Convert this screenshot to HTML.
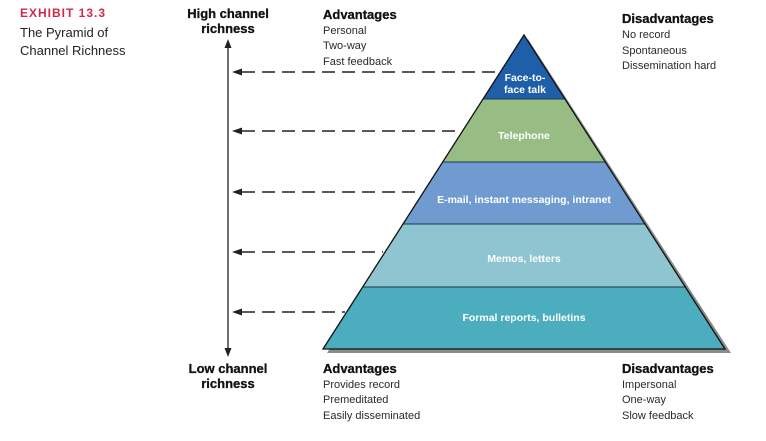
<!DOCTYPE html>
<html><head><meta charset="utf-8"><style>
html,body{margin:0;padding:0;background:#fff;}
svg{display:block;font-family:"Liberation Sans",sans-serif;}
.h{font-weight:bold;font-size:13px;fill:#111;stroke:#111;stroke-width:0.3;}
.b{font-size:11px;fill:#2a2a2a;}
.w{font-weight:bold;font-size:10.5px;fill:#fff;}
</style></head><body>
<svg width="766" height="441" viewBox="0 0 766 441" xmlns="http://www.w3.org/2000/svg">
<text x="20" y="17" font-size="12" font-weight="bold" fill="#d2294a" letter-spacing="1">EXHIBIT 13.3</text>
<text x="20" y="37" font-size="13" fill="#222">The Pyramid of</text>
<text x="20" y="55" font-size="13" fill="#222">Channel Richness</text>

<text class="h" x="228" y="18" text-anchor="middle">High channel</text>
<text class="h" x="228" y="33" text-anchor="middle">richness</text>
<text class="h" x="228" y="373" text-anchor="middle">Low channel</text>
<text class="h" x="228" y="388" text-anchor="middle">richness</text>

<line x1="228" y1="46" x2="228" y2="350" stroke="#222" stroke-width="1.3"/>
<polygon points="228,39 224.5,48 231.5,48" fill="#222"/>
<polygon points="228,357 224.5,348 231.5,348" fill="#222"/>

<g stroke="#222" stroke-width="1.5" stroke-dasharray="13,7">
<line x1="242" y1="72" x2="498" y2="72"/>
<line x1="242" y1="131" x2="460" y2="131"/>
<line x1="242" y1="192" x2="421" y2="192"/>
<line x1="242" y1="252" x2="383" y2="252"/>
<line x1="242" y1="312" x2="345" y2="312"/>
</g>
<g fill="#222">
<polygon points="232,72 242,68.5 242,75.5"/>
<polygon points="232,131 242,127.5 242,134.5"/>
<polygon points="232,192 242,188.5 242,195.5"/>
<polygon points="232,252 242,248.5 242,255.5"/>
<polygon points="232,312 242,308.5 242,315.5"/>
</g>

<polygon points="528,39 731,353 327,353" fill="#8a8a8a"/>
<polygon points="524,35 565,99 483,99" fill="#1f5fa9"/>
<polygon points="483,99 565,99 605,162 443,162" fill="#97bd85"/>
<polygon points="443,162 605,162 645,224 403,224" fill="#6f9bd0"/>
<polygon points="403,224 645,224 685,287 363,287" fill="#8ec5d1"/>
<polygon points="363,287 685,287 725,349 323,349" fill="#4badbd"/>
<g stroke="#1a3a4a" stroke-width="1" fill="none">
<line x1="483" y1="99" x2="565" y2="99"/>
<line x1="443" y1="162" x2="605" y2="162"/>
<line x1="403" y1="224" x2="645" y2="224"/>
<line x1="363" y1="287" x2="685" y2="287"/>
</g>
<polygon points="524,35 725,349 323,349" fill="none" stroke="#111" stroke-width="1.3"/>

<text class="w" x="525" y="81" text-anchor="middle">Face-to-</text>
<text class="w" x="525" y="93" text-anchor="middle">face talk</text>
<text class="w" x="524" y="139" text-anchor="middle">Telephone</text>
<text class="w" x="524" y="203" text-anchor="middle">E-mail, instant messaging, intranet</text>
<text class="w" x="524" y="262" text-anchor="middle">Memos, letters</text>
<text class="w" x="524" y="321" text-anchor="middle">Formal reports, bulletins</text>

<text class="h" x="323" y="19">Advantages</text>
<text class="b" x="323" y="34">Personal</text>
<text class="b" x="323" y="49">Two-way</text>
<text class="b" x="323" y="65">Fast feedback</text>

<text class="h" x="622" y="23">Disadvantages</text>
<text class="b" x="622" y="38">No record</text>
<text class="b" x="622" y="54">Spontaneous</text>
<text class="b" x="622" y="69">Dissemination hard</text>

<text class="h" x="323" y="373">Advantages</text>
<text class="b" x="323" y="388">Provides record</text>
<text class="b" x="323" y="403">Premeditated</text>
<text class="b" x="323" y="419">Easily disseminated</text>

<text class="h" x="622" y="373">Disadvantages</text>
<text class="b" x="622" y="388">Impersonal</text>
<text class="b" x="622" y="403">One-way</text>
<text class="b" x="622" y="419">Slow feedback</text>
</svg>
</body></html>
